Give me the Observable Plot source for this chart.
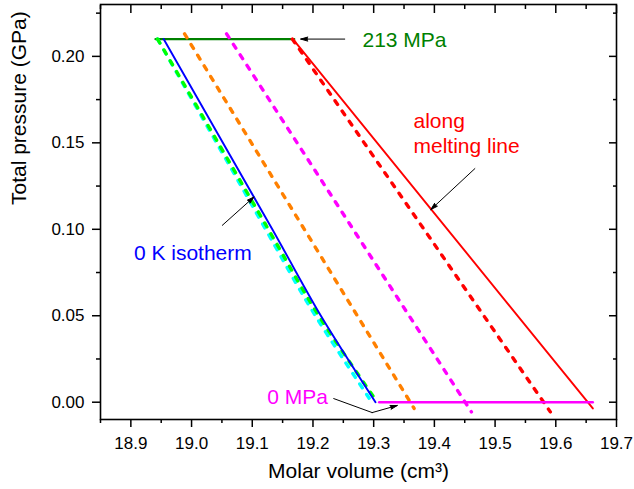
<!DOCTYPE html>
<html>
<head>
<meta charset="utf-8">
<script src="https://cdn.jsdelivr.net/npm/d3@7"></script>
<script src="https://cdn.jsdelivr.net/npm/@observablehq/plot@0.6"></script>
<style>
  html, body { margin: 0; padding: 0; background: #fff; }
  #chart svg { display: block; }
</style>
</head>
<body>
<div id="chart"></div>
<script>
// ---- tick values ----
const xMajorTicks = [18.9, 19.0, 19.1, 19.2, 19.3, 19.4, 19.5, 19.6, 19.7];
const xMinorTicks = [18.85, 18.95, 19.05, 19.15, 19.25, 19.35, 19.45, 19.55, 19.65];
const yMajorTicks = [0.00, 0.05, 0.10, 0.15, 0.20];
const yMinorTicks = [0.025, 0.075, 0.125, 0.175, 0.225];

// ---- axis titles ----
const xTitle = "Molar volume (cm³)";
const yTitle = "Total pressure (GPa)";

// ---- series (molar volume, pressure in GPa) ----
const cyanVol    = [18.944, 19.122, 19.204, 19.297];
const cyanP      = [0.21, 0.10, 0.05, 0.00];
const greenVol   = [18.944, 19.1265, 19.2097, 19.306];
const greenP     = [0.21, 0.10, 0.05, 0.00];
const orangeVol  = [18.9885, 19.3666];
const orangeP    = [0.213, -0.0036];
const magentaVol = [19.0577, 19.461];
const magentaP   = [0.213, -0.0056];
const redDashVol = [19.166, 19.591];
const redDashP   = [0.21, -0.0056];
const redVol     = [19.167, 19.661];
const redP       = [0.21, -0.0036];
const blueVol    = [18.954, 19.133, 19.213, 19.303];
const blueP      = [0.21, 0.10, 0.05, 0.00];
const line213Vol = [18.9407, 19.169];
const line213P   = [0.21, 0.21];
const line0Vol   = [19.309, 19.661];
const line0P     = [0.00, 0.00];

// ---- annotations ----
const labelText  = ["213 MPa", "along\nmelting line", "0 K isotherm", "0 MPa"];
const labelVol   = [19.2815, 19.3656, 18.905, 19.1248];
const labelP     = [0.21, 0.1558, 0.0871, 0.0037];
const labelColor = ["#008000", "#ff0000", "#0000ff", "#ff00ff"];

const arrowX1 = [19.2523, 19.4667, 19.0507, 19.2975];
const arrowY1 = [0.21, 0.1351, 0.1023, -0.0060];
const arrowX2 = [19.1798, 19.3941, 19.1028, 19.3389];
const arrowY2 = [0.21, 0.1114, 0.1187, -0.0019];
const leaderVol = [19.2342, 19.2975];
const leaderP   = [0.0021, -0.0060];

// ---- build tables ----
const toPts = (xs, ys) => xs.map((v, i) => ({v, p: ys[i]}));
const labels = labelText.map((t, i) => ({t, v: labelVol[i], p: labelP[i], c: labelColor[i]}));
const arrows = arrowX1.map((d, i) => ({x1: arrowX1[i], y1: arrowY1[i], x2: arrowX2[i], y2: arrowY2[i]}));

const dashed = {strokeWidth: 3.4, strokeDasharray: "4.5,8", strokeLinecap: "round", curve: "natural"};

const chart = Plot.plot({
  width: 634,
  height: 489,
  marginLeft: 100,
  marginRight: 18,
  marginTop: 4,
  marginBottom: 70,
  x: {domain: [18.85, 19.7]},
  y: {domain: [-0.01, 0.23]},
  style: {fontFamily: "'Liberation Sans', Arial, sans-serif", color: "black", background: "white", overflow: "visible"},
  marks: [
    // axes
    Plot.axisX({anchor: "bottom", ticks: xMajorTicks, tickSize: 8, tickPadding: 9, tickFormat: d3.format(".1f"), fontSize: 17, label: null, strokeWidth: 1.5}),
    Plot.axisX({anchor: "bottom", ticks: xMinorTicks, tickSize: 4, fill: "none", label: null, strokeWidth: 1.5}),
    Plot.axisX({anchor: "top", ticks: xMajorTicks, tickSize: -8, fill: "none", label: null, strokeWidth: 1.5}),
    Plot.axisX({anchor: "top", ticks: xMinorTicks, tickSize: -4, fill: "none", label: null, strokeWidth: 1.5}),
    Plot.axisY({anchor: "left", ticks: yMajorTicks, tickSize: 8, tickPadding: 8, tickFormat: d3.format(".2f"), fontSize: 17, label: null, strokeWidth: 1.5}),
    Plot.axisY({anchor: "left", ticks: yMinorTicks, tickSize: 4, fill: "none", label: null, strokeWidth: 1.5}),
    Plot.axisY({anchor: "right", ticks: yMajorTicks, tickSize: -8, fill: "none", label: null, strokeWidth: 1.5}),
    Plot.axisY({anchor: "right", ticks: yMinorTicks, tickSize: -4, fill: "none", label: null, strokeWidth: 1.5}),
    Plot.frame({stroke: "black", strokeWidth: 1.6}),

    // series
    Plot.line(toPts(line213Vol, line213P), {x: "v", y: "p", stroke: "#008000", strokeWidth: 2.4}),
    Plot.line(toPts(cyanVol, cyanP), {x: "v", y: "p", stroke: "#00ffff", ...dashed}),
    Plot.line(toPts(greenVol, greenP), {x: "v", y: "p", stroke: "#00ff00", ...dashed}),
    Plot.line(toPts(orangeVol, orangeP), {x: "v", y: "p", stroke: "#ff8000", ...dashed}),
    Plot.line(toPts(magentaVol, magentaP), {x: "v", y: "p", stroke: "#ff00ff", ...dashed}),
    Plot.line(toPts(redDashVol, redDashP), {x: "v", y: "p", stroke: "#ff0000", ...dashed}),
    Plot.line(toPts(redVol, redP), {x: "v", y: "p", stroke: "#ff0000", strokeWidth: 1.9}),
    Plot.line(toPts(blueVol, blueP), {x: "v", y: "p", stroke: "#0000ff", strokeWidth: 1.9, curve: "natural"}),
    Plot.line(toPts(line0Vol, line0P), {x: "v", y: "p", stroke: "#ff00ff", strokeWidth: 2.4}),

    // annotation arrows
    Plot.line(toPts(leaderVol, leaderP), {x: "v", y: "p", stroke: "black", strokeWidth: 1}),
    Plot.arrow(arrows, {x1: "x1", y1: "y1", x2: "x2", y2: "y2", stroke: "black", fill: "black", strokeWidth: 1, headLength: 11, headAngle: 32}),

    // annotation labels
    Plot.text(labels, {x: "v", y: "p", text: "t", fill: "c", textAnchor: "start", fontSize: 21, lineHeight: 1.19}),

    // axis titles
    Plot.text([xTitle], {frameAnchor: "bottom", text: d => d, dy: 58, fontSize: 21}),
    Plot.text([yTitle], {frameAnchor: "left", text: d => d, rotate: -90, dx: -81, dy: -7, fontSize: 21})
  ]
});

document.getElementById("chart").appendChild(chart);
</script>
</body>
</html>
